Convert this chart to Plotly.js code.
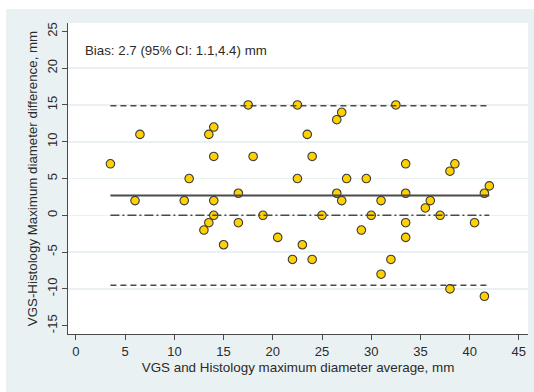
<!DOCTYPE html>
<html>
<head>
<meta charset="utf-8">
<script src="https://cdn.plot.ly/plotly-3.0.1.min.js"></script>
<style>
  html, body { margin: 0; padding: 0; background: #ffffff; }
  #chart { position: absolute; left: 6px; top: 9px; width: 528px; height: 383px; }
</style>
</head>
<body>
<div id="chart"></div>
<script>
// Bland-Altman data: average of VGS and histology (x), difference (y)
const avgDiameter = [3.5, 6, 6.5, 11, 11.5, 13, 13.5, 13.5, 14, 14, 14, 14, 15, 16.5, 16.5, 17.5, 18, 19, 20.5, 22, 22.5, 22.5, 23, 23.5, 24, 24, 25, 26.5, 26.5, 27, 27, 27.5, 29, 29.5, 30, 31, 31, 32, 32.5, 33.5, 33.5, 33.5, 33.5, 35.5, 36, 37, 38, 38, 38.5, 40.5, 41.5, 41.5, 42];
const diffDiameter = [7, 2, 11, 2, 5, -2, -1, 11, 12, 8, 2, 0, -4, 3, -1, 15, 8, 0, -3, -6, 15, 5, -4, 11, 8, -6, 0, 13, 3, 14, 2, 5, -2, 5, 0, 2, -8, -6, 15, 7, 3, -1, -3, 1, 2, 0, 6, -10, 7, -1, 3, -11, 4];

const bias = 2.7;
const biasCI = [1.1, 4.4];
const upperLoA = 14.9;
const lowerLoA = -9.5;
const zeroRef = 0;

const xTicks = [0, 5, 10, 15, 20, 25, 30, 35, 40, 45];
const yTicks = [-15, -10, -5, 0, 5, 10, 15, 20, 25];
const yGrid = [-10, -5, 0, 5, 10, 15, 20];

const xMin = Math.min(...avgDiameter);
const xMax = Math.max(...avgDiameter);
const lineX = [xMin, xMax];

const fontFam = '"Liberation Sans", Arial, Helvetica, sans-serif';
const lineCol = '#4a4a4a';
const textCol = '#2b2b2b';

const traces = [
  { x: [xMin], y: [bias], yaxis: 'y2', type: 'scatter', mode: 'markers', marker: { opacity: 0 }, hoverinfo: 'skip' },
  {
    x: avgDiameter, y: diffDiameter, type: 'scatter', mode: 'markers',
    marker: { color: '#ffd100', size: 8.5, line: { color: '#3a3a3a', width: 1.1 } },
    hoverinfo: 'x+y'
  },
  {
    x: lineX, y: [bias, bias], type: 'scatter', mode: 'lines',
    line: { color: lineCol, width: 2 }
  },
  {
    x: lineX, y: [upperLoA, upperLoA], type: 'scatter', mode: 'lines',
    line: { color: lineCol, width: 1.6, dash: '6px,4px' }
  },
  {
    x: lineX, y: [lowerLoA, lowerLoA], type: 'scatter', mode: 'lines',
    line: { color: lineCol, width: 1.6, dash: '6px,4px' }
  },
  {
    x: lineX, y: [zeroRef, zeroRef], type: 'scatter', mode: 'lines',
    line: { color: lineCol, width: 1.6, dash: '9px,3px,2px,3px' }
  }
];

const layout = {
  width: 528, height: 383,
  margin: { l: 62, r: 6, t: 14, b: 58 },
  paper_bgcolor: '#eaf1f3',
  plot_bgcolor: '#ffffff',
  showlegend: false,
  font: { family: fontFam, size: 13, color: textCol },
  xaxis: {
    range: [-0.81, 45.93],
    tickvals: xTicks, ticktext: xTicks.map(String),
    ticks: 'outside', ticklen: 5, tickcolor: lineCol, tickwidth: 1,
    showline: true, linecolor: lineCol, linewidth: 1,
    showgrid: false, zeroline: false,
    tickfont: { family: fontFam, size: 13, color: textCol },
    title: { text: 'VGS and Histology maximum diameter average, mm', font: { family: fontFam, size: 13.4, color: textCol }, standoff: 5 }
  },
  yaxis: {
    range: [-16.13, 26.14],
    tickvals: yTicks, ticktext: yTicks.map(String),
    tickangle: -90,
    ticks: 'outside', ticklen: 5, tickcolor: lineCol, tickwidth: 1,
    showline: true, linecolor: lineCol, linewidth: 1,
    showgrid: false, zeroline: false,
    tickfont: { family: fontFam, size: 13, color: textCol },
    title: { text: 'VGS-Histology Maximum diameter difference, mm', font: { family: fontFam, size: 13.3, color: textCol }, standoff: 4 }
  },
  yaxis2: {
    overlaying: 'y', range: [-16.13, 26.14],
    tickvals: yGrid, showticklabels: false, ticks: '',
    showgrid: true, gridcolor: '#eaf1f3', gridwidth: 1.5,
    zeroline: false, showline: false
  },
  annotations: [{
    xref: 'paper', yref: 'paper', x: 0.032, y: 0.91,
    xanchor: 'left', yanchor: 'middle', showarrow: false,
    text: 'Bias: ' + bias + ' (95% CI: ' + biasCI[0] + ',' + biasCI[1] + ') mm',
    font: { family: fontFam, size: 13.3, color: textCol }
  }]
};

Plotly.newPlot('chart', traces, layout, { staticPlot: true });
</script>
</body>
</html>
